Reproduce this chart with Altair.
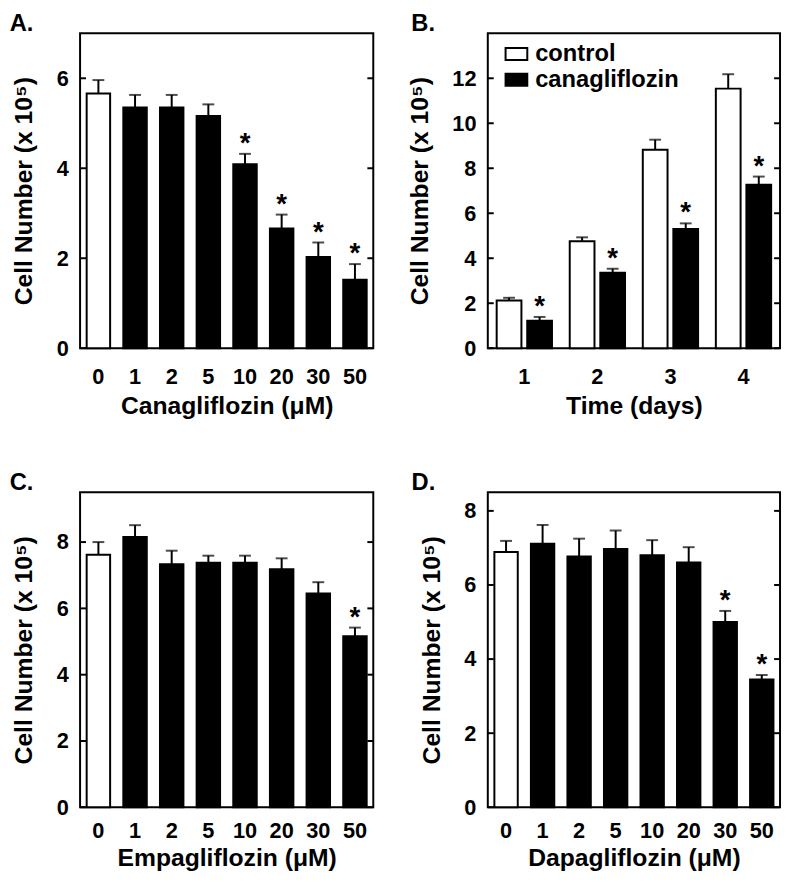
import altair as alt
import pandas as pd

FONT = "Liberation Sans"
YTITLE = "Cell Number (x 10⁵)"

# ---- data ----
conc_labels = ["0", "1", "2", "5", "10", "20", "30", "50"]
conc_group = ["control", "drug", "drug", "drug", "drug", "drug", "drug", "drug"]

cana_mean = [5.66, 5.35, 5.35, 5.16, 4.09, 2.66, 2.03, 1.52]
cana_sem = [0.30, 0.28, 0.28, 0.26, 0.23, 0.31, 0.32, 0.35]
cana_sig = [False, False, False, False, True, True, True, True]

empa_mean = [7.62, 8.15, 7.33, 7.38, 7.38, 7.18, 6.45, 5.16]
empa_sem = [0.38, 0.36, 0.41, 0.21, 0.21, 0.33, 0.34, 0.26]
empa_sig = [False, False, False, False, False, False, False, True]

dapa_mean = [6.89, 7.11, 6.77, 6.97, 6.80, 6.61, 5.00, 3.45]
dapa_sem = [0.30, 0.51, 0.48, 0.50, 0.41, 0.41, 0.30, 0.12]
dapa_sig = [False, False, False, False, False, False, True, True]

days = ["1", "2", "3", "4"]
time_groups = ["control", "canagliflozin"]
ctrl_mean = [2.12, 4.76, 8.82, 11.54]
ctrl_sem = [0.12, 0.17, 0.45, 0.64]
ctrl_sig = [False, False, False, False]
canag_mean = [1.22, 3.36, 5.30, 7.27]
canag_sem = [0.17, 0.17, 0.25, 0.36]
canag_sig = [True, True, True, True]

ticks_A = [0, 2, 4, 6]
ticks_B = [0, 2, 4, 6, 8, 10, 12]
ticks_C = [0, 2, 4, 6, 8]
ticks_D = [0, 2, 4, 6, 8]

W1, W2, H = 297, 296, 319


def inner_ticks(values, W, yscale, yaxis):
    df = pd.DataFrame({"v": values})
    base = alt.Chart(df)
    left = base.mark_rule(color="black", strokeWidth=2).encode(
        y=alt.Y("v:Q", scale=yscale, axis=yaxis), x=alt.value(0), x2=alt.value(6))
    right = base.mark_rule(color="black", strokeWidth=2).encode(
        y=alt.Y("v:Q", scale=yscale, axis=yaxis), x=alt.value(W - 6), x2=alt.value(W))
    return [left, right]


def title(txt, dx):
    return alt.TitleParams(txt, anchor="start", frame="bounds", dx=dx,
                           font=FONT, fontWeight="bold", fontSize=24, offset=-3,
                           color="black")


def dose_panel(label, drug, means, sems, sig, ymax, ticks, dx, W, lpad, tpad):
    df = pd.DataFrame({"conc": conc_labels, "grp": conc_group,
                       "mean": means, "sem": sems, "sig": sig})
    df["top"] = df["mean"] + df["sem"]
    xscale = alt.Scale(paddingInner=0.36, paddingOuter=0.18)
    yscale = alt.Scale(domain=[0, ymax], nice=False, zero=True)
    xaxis = alt.Axis(title=f"{drug} (μM)", labelPadding=lpad, titlePadding=tpad)
    yaxis = alt.Axis(title=YTITLE, values=ticks)
    base = alt.Chart(df)
    xn = alt.X("conc:N", sort=conc_labels, scale=xscale, axis=xaxis)
    bars = base.mark_bar(stroke="black", strokeWidth=2).encode(
        x=xn,
        y=alt.Y("mean:Q", scale=yscale, axis=yaxis),
        fill=alt.Fill("grp:N", scale=alt.Scale(domain=["control", "drug"],
                                               range=["white", "black"]), legend=None),
    )
    err = base.mark_rule(color="black", strokeWidth=2).encode(
        x=xn, y=alt.Y("mean:Q", scale=yscale, axis=yaxis), y2="top:Q")
    cap = base.mark_tick(color="black", size=12, thickness=2).encode(
        x=xn, y=alt.Y("top:Q", scale=yscale, axis=yaxis))
    star = base.transform_filter("datum.sig").mark_text(
        text="*", font=FONT, fontWeight="bold", fontSize=28,
        baseline="alphabetic", dy=-2, color="black").encode(
        x=xn, y=alt.Y("top:Q", scale=yscale, axis=yaxis))
    layers = [bars, err, cap, star] + inner_ticks(ticks, W, yscale, yaxis)
    return alt.layer(*layers).properties(width=W, height=H, title=title(label, dx))


def time_panel():
    df = pd.DataFrame({
        "day": days + days,
        "group": [time_groups[0]] * 4 + [time_groups[1]] * 4,
        "mean": ctrl_mean + canag_mean,
        "sem": ctrl_sem + canag_sem,
        "sig": ctrl_sig + canag_sig,
    })
    df["top"] = df["mean"] + df["sem"]
    xscale = alt.Scale(paddingInner=0.243, paddingOuter=0.1215)
    oscale = alt.Scale(paddingInner=0.19, paddingOuter=0)
    yscale = alt.Scale(domain=[0, 14], nice=False, zero=True)
    xaxis = alt.Axis(title="Time (days)", labelPadding=19, titlePadding=6)
    yaxis = alt.Axis(title=YTITLE, values=ticks_B)
    base = alt.Chart(df)
    xo = alt.XOffset("group:N", sort=time_groups, scale=oscale)
    xn = alt.X("day:N", sort=days, scale=xscale, axis=xaxis)
    bars = base.mark_bar(stroke="black", strokeWidth=2).encode(
        x=xn,
        xOffset=xo,
        y=alt.Y("mean:Q", scale=yscale, axis=yaxis),
        fill=alt.Fill("group:N", sort=time_groups,
                      scale=alt.Scale(domain=time_groups, range=["white", "black"]),
                      legend=alt.Legend(
                          title=None, orient="none", legendX=17, legendY=9,
                          symbolType="M-1,-0.55H1V0.55H-1Z", symbolSize=484,
                          symbolStrokeColor="black", symbolStrokeWidth=2,
                          labelFont=FONT, labelFontWeight="bold", labelFontSize=24,
                          labelColor="black", labelOffset=7, rowPadding=2, padding=0)),
    )
    err = base.mark_rule(color="black", strokeWidth=2).encode(
        x=xn, xOffset=xo, y=alt.Y("mean:Q", scale=yscale, axis=yaxis), y2="top:Q")
    cap = base.mark_tick(color="black", size=12, thickness=2).encode(
        x=xn, xOffset=xo, y=alt.Y("top:Q", scale=yscale, axis=yaxis))
    star = base.transform_filter("datum.sig").mark_text(
        text="*", font=FONT, fontWeight="bold", fontSize=28,
        baseline="alphabetic", dy=-2, color="black").encode(
        x=xn, xOffset=xo, y=alt.Y("top:Q", scale=yscale, axis=yaxis))
    layers = [bars, err, cap, star] + inner_ticks(ticks_B, W2, yscale, yaxis)
    return alt.layer(*layers).properties(width=W2, height=H, title=title("B.", 4))


pA = dose_panel("A.", "Canagliflozin", cana_mean, cana_sem, cana_sig, 7, ticks_A, -2, W1, 19, 6)
pB = time_panel()
pC = dose_panel("C.", "Empagliflozin", empa_mean, empa_sem, empa_sig, 9.5, ticks_C, -2, W1, 14, 4)
pD = dose_panel("D.", "Dapagliflozin", dapa_mean, dapa_sem, dapa_sig, 8.5, ticks_D, -8, W2, 14, 4)

chart = alt.concat(pA, pB, pC, pD, columns=2,
                   spacing={"row": 52, "column": 31}).resolve_scale(
    x="independent", y="independent", fill="independent", xOffset="independent"
).resolve_legend(fill="independent").properties(
    padding={"left": 0, "top": -2, "right": 0, "bottom": 0}, align="each"
).configure_view(stroke="black", strokeWidth=2).configure_axis(
    labelFont=FONT, titleFont=FONT, labelFontWeight="bold", titleFontWeight="bold",
    labelFontSize=22, titleFontSize=25, labelColor="black", titleColor="black",
    ticks=False, domain=False, grid=False
).configure_axisX(labelAngle=0
).configure_axisY(labelPadding=12, titlePadding=20)

chart.save("out.html", embed_options={"renderer": "svg", "actions": False})
